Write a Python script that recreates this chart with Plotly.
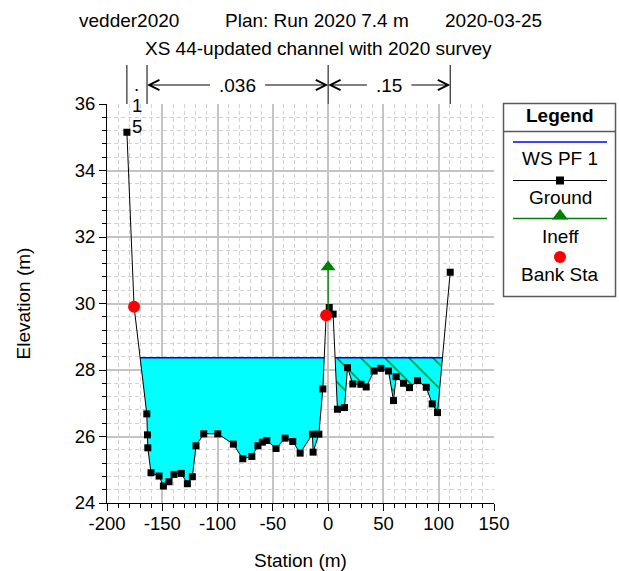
import numpy as np
import plotly.graph_objects as go

W, H = 619, 571
FONT = "Liberation Sans, Arial, sans-serif"

# Cross-section survey: station (m) and ground elevation (m)
station = [-182.0, -175.5, -164.0, -163.4, -163.1, -160.2, -152.9, -149.0, -143.9,
           -139.4, -132.8, -127.3, -122.8, -119.5, -112.5, -99.8, -85.7, -77.2,
           -69.0, -63.5, -59.5, -55.5, -47.1, -38.9, -32.0, -25.3, -14.2, -13.6,
           -8.4, -4.8, -1.8, 1.0, 4.5, 8.4, 14.8, 17.5, 22.3, 29.6, 34.4, 41.6,
           47.7, 54.6, 59.1, 61.5, 68.2, 73.6, 80.8, 88.7, 94.1, 98.9, 110.4]
elevation = [35.15, 29.90, 26.68, 26.05, 25.66, 24.91, 24.81, 24.51, 24.64,
             24.86, 24.89, 24.58, 24.79, 25.72, 26.08, 26.08, 25.77, 25.33,
             25.40, 25.72, 25.83, 25.88, 25.64, 25.95, 25.85, 25.50, 26.07, 25.53,
             26.07, 27.43, 29.65, 29.88, 29.68, 26.82, 26.87, 28.07, 27.58, 27.57, 27.49, 27.97,
             28.05, 27.97, 27.08, 27.80, 27.60, 27.47, 27.68, 27.48, 26.98, 26.72, 30.94]

ws_elev = 28.37                      # WS PF 1
bank_sta = [-175.5, -1.8]            # bank stations
ineff_sta, ineff_elev = 0.0, 31.1    # right ineffective flow area
n_breaks = [-182.0, -163.8, 0.0, 110.4]
n_labels = [".15", ".036", ".15"]

x_tick_vals = [-200, -150, -100, -50, 0, 50, 100, 150]
x_tick_text = ["-200", "-150", "-100", "-50", "0", "50", "100", "150"]
y_tick_vals = [24, 26, 28, 30, 32, 34, 36]
y_tick_text = ["24", "26", "28", "30", "32", "34", "36"]

title_left = "vedder2020"
title_mid = "Plan: Run 2020 7.4 m"
title_right = "2020-03-25"
subtitle = "XS 44-updated channel with 2020 survey"

x_range = [-200, 150]
y_range = [24, 36]

# plot-area placement in pixels
PL, PR, PT, PB = 107, 494, 104, 503


def px_x(p):
    return p / W


def px_y(p):
    return 1 - p / H


def wet_regions(x, z, ws):
    """Split the section into submerged pieces, with waterline crossings."""
    regions, cur = [], None
    for i in range(len(x) - 1):
        x0, z0, x1, z1 = x[i], z[i], x[i + 1], z[i + 1]
        if z0 >= ws and z1 < ws:
            t = (z0 - ws) / (z0 - z1)
            cur = [(x0 + t * (x1 - x0), ws)]
        if cur is not None and z1 < ws:
            cur.append((x1, z1))
        if cur is not None and z0 < ws and z1 >= ws:
            t = (ws - z0) / (z1 - z0)
            cur.append((x0 + t * (x1 - x0), ws))
            regions.append(cur)
            cur = None
    return regions


fig = go.Figure()

# water fills
regions = wet_regions(station, elevation, ws_elev)
ws_x, ws_y = [], []
for reg in regions:
    rx = [p[0] for p in reg]
    ry = [p[1] for p in reg]
    hatched = min(rx) >= ineff_sta
    kw = dict(x=rx, y=ry, mode="lines", fill="toself", line=dict(width=0),
              fillcolor="#00ffff", showlegend=False, hoverinfo="skip")
    if hatched:
        kw["fillpattern"] = dict(shape="\\", fgcolor="#007a00", bgcolor="#00ffff",
                                 size=17, solidity=0.08, fillmode="replace")
    fig.add_trace(go.Scatter(**kw))
    ws_x += [rx[0], rx[-1], None]
    ws_y += [ws_elev, ws_elev, None]

fig.add_trace(go.Scatter(x=ws_x, y=ws_y, mode="lines",
                         line=dict(color="#0000ff", width=1.6),
                         showlegend=False, hoverinfo="skip"))

# ground
fig.add_trace(go.Scatter(x=station, y=elevation, mode="lines+markers",
                         line=dict(color="black", width=1),
                         marker=dict(symbol="square", size=7, color="black"),
                         showlegend=False))

# ineffective flow marker: stem down to the ground, triangle at the elevation
ineff_base = float(np.interp(ineff_sta, station, elevation))
fig.add_trace(go.Scatter(x=[ineff_sta, ineff_sta], y=[ineff_base, ineff_elev],
                         mode="lines", line=dict(color="#008000", width=1.3),
                         showlegend=False))
fig.add_trace(go.Scatter(x=[ineff_sta], y=[ineff_elev], mode="markers",
                         marker=dict(symbol="triangle-up", size=13, color="#008000"),
                         showlegend=False))

# bank stations
bank_elev = np.interp(bank_sta, station, elevation)
fig.add_trace(go.Scatter(x=bank_sta, y=bank_elev, mode="markers",
                         marker=dict(symbol="circle", size=12, color="#ff0000"),
                         showlegend=False))

annotations = []
shapes = []


def label(x, y, text, xref="paper", yref="paper", size=19, xanchor="center", **extra):
    d = dict(x=x, y=y, xref=xref, yref=yref, text=text, showarrow=False,
             xanchor=xanchor, yanchor="middle",
             font=dict(size=size, color="black", family=FONT))
    d.update(extra)
    annotations.append(d)


# Manning's n zones above the plot
arrow_y = px_y(85)
for b in n_breaks:
    shapes.append(dict(type="line", xref="x", yref="paper", x0=b, x1=b,
                       y0=px_y(PT), y1=px_y(65), line=dict(color="black", width=1)))
ppu = (PR - PL) / (x_range[1] - x_range[0])
for i, lab in enumerate(n_labels):
    a, b = n_breaks[i], n_breaks[i + 1]
    mid = (a + b) / 2
    text_w = len(lab) * 10.5
    if (b - a) * ppu < text_w + 10:
        for j, ch in enumerate(lab):
            label(mid, px_y(84 + 21 * j), ch, xref="x", size=18.5)
        continue
    label(mid, arrow_y, lab, xref="x")
    half = (text_w / 2 + 5) / ppu
    for tail, head in ((mid - half, a), (mid + half, b)):
        annotations.append(dict(x=head, y=arrow_y, xref="x", yref="paper",
                                ax=tail, ay=0, axref="x", ayref="pixel", text="",
                                showarrow=True, arrowhead=5, arrowsize=2,
                                arrowwidth=1, arrowcolor="black"))

# titles
label(px_x(77), px_y(20), title_left, xanchor="left")
label(px_x(223), px_y(20), title_mid, xanchor="left")
label(px_x(443), px_y(20), title_right, xanchor="left")
label(px_x(318.5), px_y(48), subtitle)
label(px_x((PL + PR) / 2), px_y(560), "Station (m)")
label(px_x(23), px_y((PT + PB) / 2), "Elevation (m)", textangle=-90)

# legend panel (drawn in its own hidden axes, pixel units)
LX0, LX1, LY0, LY1 = 503.5, 615.5, 103.5, 296.5
shapes.append(dict(type="rect", xref="paper", yref="paper", x0=px_x(LX0), x1=px_x(LX1),
                   y0=px_y(LY1), y1=px_y(LY0), line=dict(color="#5a5a5a", width=1.5),
                   fillcolor="white", layer="below"))
shapes.append(dict(type="line", xref="paper", yref="paper", x0=px_x(LX0), x1=px_x(LX1),
                   y0=px_y(131.5), y1=px_y(131.5), line=dict(color="#5a5a5a", width=1.5)))
lx = [513, 607]
fig.add_trace(go.Scatter(x=lx, y=[142] * 2, mode="lines", xaxis="x2", yaxis="y2",
                         line=dict(color="#0000ff", width=1.3), showlegend=False))
fig.add_trace(go.Scatter(x=lx, y=[180.5] * 2, mode="lines", xaxis="x2", yaxis="y2",
                         line=dict(color="black", width=1), showlegend=False))
fig.add_trace(go.Scatter(x=[560], y=[180.5], mode="markers", xaxis="x2", yaxis="y2",
                         marker=dict(symbol="square", size=8, color="black"),
                         showlegend=False))
fig.add_trace(go.Scatter(x=lx, y=[218.5] * 2, mode="lines", xaxis="x2", yaxis="y2",
                         line=dict(color="#008000", width=1.3), showlegend=False))
fig.add_trace(go.Scatter(x=[560], y=[216], mode="markers", xaxis="x2", yaxis="y2",
                         marker=dict(symbol="triangle-up", size=14, color="#008000"),
                         showlegend=False))
fig.add_trace(go.Scatter(x=[560], y=[257], mode="markers", xaxis="x2", yaxis="y2",
                         marker=dict(symbol="circle", size=12, color="#ff0000"),
                         showlegend=False))
for txt, yy, bold in (("Legend", 115.5, True), ("WS PF 1", 158.5, False),
                      ("Ground", 197.5, False), ("Ineff", 236, False),
                      ("Bank Sta", 274, False)):
    label(560, yy, f"<b>{txt}</b>" if bold else txt, xref="x2", yref="y2")

major_grid = "#c4c4c4"
minor_grid = "#d2d2d2"
fig.update_layout(
    width=W, height=H,
    autosize=False,
    margin=dict(l=0, r=0, t=0, b=0, pad=0, autoexpand=False),
    paper_bgcolor="white", plot_bgcolor="white",
    font=dict(family=FONT, size=18.5, color="black"),
    showlegend=False,
    xaxis=dict(domain=[PL / W, PR / W], range=x_range,
               tickmode="array", tickvals=x_tick_vals, ticktext=x_tick_text,
               ticks="outside", ticklen=7, tickcolor="black", tickwidth=1,
               showline=True, linecolor="black", linewidth=1, automargin=False,
               showgrid=True, gridcolor=major_grid, gridwidth=1.5, zeroline=False,
               tickfont=dict(size=18.5), ticklabelstandoff=-3,
               minor=dict(tick0=0, dtick=10, ticks="outside", ticklen=4, tickcolor="black",
                          showgrid=True, gridcolor=minor_grid, gridwidth=1,
                          griddash="4px,3px")),
    yaxis=dict(domain=[1 - PB / H, 1 - PT / H], range=y_range,
               tickmode="array", tickvals=y_tick_vals, ticktext=y_tick_text,
               ticks="outside", ticklen=7, tickcolor="black", tickwidth=1,
               showline=True, linecolor="black", linewidth=1, automargin=False,
               showgrid=True, gridcolor=major_grid, gridwidth=1.5, zeroline=False,
               tickfont=dict(size=18.5), ticklabelstandoff=0,
               minor=dict(tick0=0, dtick=0.4, ticks="outside", ticklen=4, tickcolor="black",
                          showgrid=True, gridcolor=minor_grid, gridwidth=1,
                          griddash="4px,3px")),
    xaxis2=dict(domain=[LX0 / W, LX1 / W], range=[LX0, LX1], visible=False,
                fixedrange=True),
    yaxis2=dict(domain=[1 - LY1 / H, 1 - LY0 / H], range=[LY1, LY0], visible=False,
                fixedrange=True),
    annotations=annotations,
    shapes=shapes,
)

fig.write_html("out.html")
